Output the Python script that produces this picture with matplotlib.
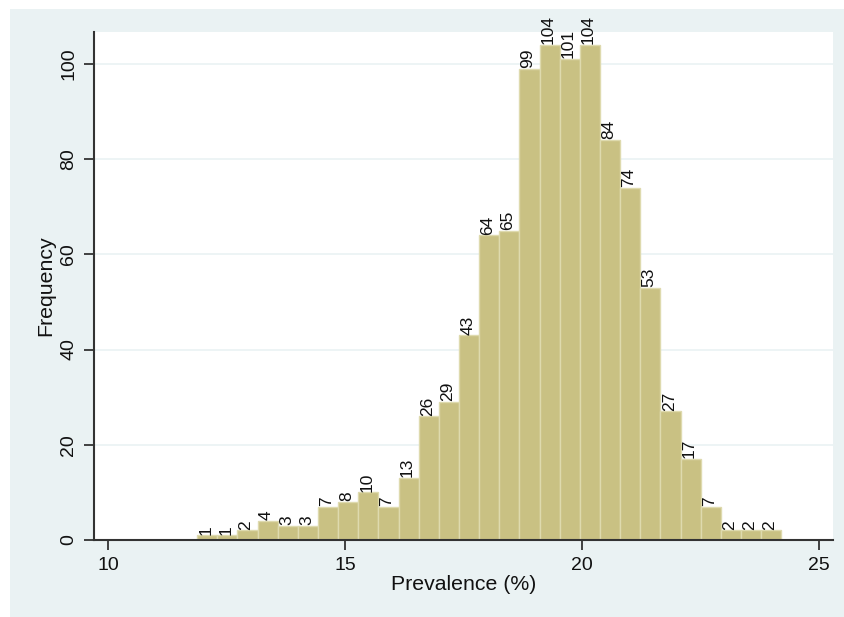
import matplotlib
matplotlib.use("Agg")
import matplotlib.pyplot as plt
from matplotlib.patches import Rectangle

# Data (histogram counts)
bin_start = 11.88
bin_width = 0.425
counts = [1, 1, 2, 4, 3, 3, 7, 8, 10, 7, 13, 26, 29, 43, 64, 65, 99, 104,
          101, 104, 84, 74, 53, 27, 17, 7, 2, 2, 2]
x_ticks = [10, 15, 20, 25]
y_ticks = [0, 20, 40, 60, 80, 100]
x_label = "Prevalence (%)"
y_label = "Frequency"

plt.rcParams['font.family'] = ['Liberation Sans', 'DejaVu Sans']

W, H = 844, 617
fig = plt.figure(figsize=(W / 100, H / 100), dpi=100, facecolor='#EAF2F3')
# white margins at top and left
fig.add_artist(Rectangle((0, 1 - 9 / H), 1, 9 / H, transform=fig.transFigure,
                         facecolor='white', edgecolor='none', zorder=-10))
fig.add_artist(Rectangle((0, 0), 10 / W, 1, transform=fig.transFigure,
                         facecolor='white', edgecolor='none', zorder=-10))

ax = fig.add_axes([94 / W, 1 - 540 / H, (833 - 94) / W, (540 - 32) / H])
ax.set_facecolor('white')

lefts = [bin_start + i * bin_width for i in range(len(counts))]
ax.bar(lefts, counts, width=bin_width, align='edge', color='#C9C183',
       edgecolor='#DEDAAE', linewidth=1.0, zorder=2)

for l, c in zip(lefts, counts):
    ax.annotate(str(c), xy=(l + bin_width / 2, c), xytext=(-1, 0.5),
                textcoords='offset points', rotation=90, ha='center',
                va='bottom', fontsize=12.5, color='#111111', zorder=3)

ax.set_xlim(9.705, 25.295)
ax.set_ylim(0, 106.7)
ax.set_xticks(x_ticks)
ax.set_yticks(y_ticks)
ax.set_yticklabels([str(v) for v in y_ticks], rotation=90, va='center')
ax.tick_params(axis='both', labelsize=14, length=7, width=1.3,
               color='#333333', labelcolor='#111111', pad=5)
ax.yaxis.grid(True, color='#EAF2F3', linewidth=1.2, zorder=1)
ax.set_axisbelow(True)

for s in ['top', 'right']:
    ax.spines[s].set_visible(False)
for s in ['left', 'bottom']:
    ax.spines[s].set_color('#333333')
    ax.spines[s].set_linewidth(1.5)

ax.set_xlabel(x_label, fontsize=15.3, color='#111111', labelpad=1)
ax.set_ylabel(y_label, fontsize=15.3, color='#111111', labelpad=3.5)

fig.savefig('out.png', dpi=100, facecolor=fig.get_facecolor())
